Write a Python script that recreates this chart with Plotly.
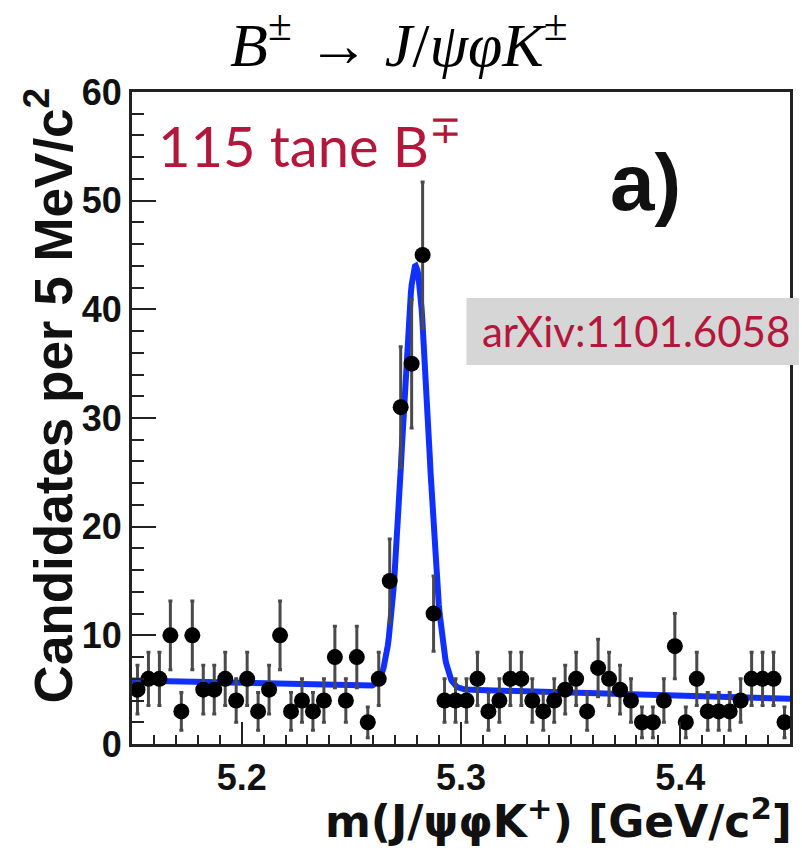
import numpy as np
import plotly.graph_objects as go

# ---- data (candidates per 5 MeV/c^2 bin, 5.15 - 5.45 GeV/c^2) ----
bin_lo = 5.15
bin_width = 0.005
counts = [5, 6, 6, 10, 3, 10, 5, 5, 6, 4, 6, 3,
          5, 10, 3, 4, 3, 4, 8, 4, 8, 2, 6,
          15, 31, 35, 45, 12,
          4, 4, 4, 6, 3, 4, 6, 6, 4, 3, 4, 5, 6, 3, 7, 6, 5, 4, 2, 2,
          4, 9, 2, 6, 3, 3, 3, 4, 6, 6, 6, 2]
bin_centers = [bin_lo + bin_width * (i + 0.5) for i in range(len(counts))]
errors = [np.sqrt(c) for c in counts]

# ---- fit model parameters (Gaussian signal + linear background) ----
sig_yield = 115
sig_mean = 5.2793
sig_sigma = 0.0059
bkg_at_lo = 5.85
bkg_slope = -5.6  # per GeV/c^2

x_tick_vals = [5.2, 5.3, 5.4]
x_tick_text = ["5.2", "5.3", "5.4"]
y_tick_vals = [0, 10, 20, 30, 40, 50, 60]

xf = np.linspace(5.15, 5.45, 801)
yf = (bkg_at_lo + bkg_slope * (xf - bin_lo)
      + sig_yield * bin_width / (np.sqrt(2 * np.pi) * sig_sigma)
      * np.exp(-0.5 * ((xf - sig_mean) / sig_sigma) ** 2))

crimson = "#b3173b"
fig = go.Figure()
fig.add_trace(go.Scatter(x=xf, y=yf, mode="lines",
                         line=dict(color="#1030ff", width=6), hoverinfo="skip"))
fig.add_trace(go.Scatter(
    x=bin_centers, y=counts, mode="markers",
    marker=dict(color="black", size=16),
    error_y=dict(type="data", array=errors, color="#4a4a4a", thickness=3, width=2),
))

axis_common = dict(showgrid=False, zeroline=False, showline=True, mirror=True,
                   linecolor="#222222", linewidth=3, ticks="inside",
                   tickcolor="#222222", tickwidth=2)
fig.update_xaxes(range=[5.15, 5.45], tickvals=x_tick_vals, ticktext=x_tick_text,
                 ticklen=22,
                 minor=dict(dtick=0.01, ticklen=9, tickcolor="#222222", ticks="inside"),
                 tickfont=dict(family="Liberation Sans", size=36, color="#111111", weight="bold"),
                 **axis_common)
fig.update_yaxes(range=[0, 60], tickvals=y_tick_vals, ticklen=24,
                 minor=dict(dtick=2, ticklen=12, tickcolor="#222222", ticks="inside"),
                 tickfont=dict(family="Liberation Sans", size=36, color="#111111", weight="bold"),
                 **axis_common)

L, R, T, B = 132, 9, 92, 106
W, H = 802, 850
pw, ph = W - L - R, H - T - B

def px(xp):
    return (xp - L) / pw

def py(yp):
    return (H - B - yp) / ph

annotations = [
    dict(text="<i>B</i><sup>±</sup> → <i>J</i>/<i>ψφK</i><sup>±</sup>",
         x=px(400), y=py(40), xref="paper", yref="paper", showarrow=False,
         xanchor="center", yanchor="middle",
         font=dict(family="Liberation Serif", size=62, color="black")),
    dict(text="Candidates per 5 MeV/c<sup>2</sup>", textangle=-90,
         x=px(48), y=py(85), xref="paper", yref="paper", showarrow=False,
         xanchor="center", yanchor="top",
         font=dict(family="Liberation Sans", size=53, color="#111111", weight="bold")),
    dict(text="m(J/ψφK<sup>+</sup>) [GeV/c<sup>2</sup>]",
         x=px(797), y=py(819), xref="paper", yref="paper", showarrow=False,
         xanchor="right", yanchor="middle",
         font=dict(family="DejaVu Sans", size=44, color="#111111", weight="bold")),
    dict(text="115 tane B<sup>∓</sup>",
         x=px(156), y=py(141), xref="paper", yref="paper", showarrow=False,
         xanchor="left", yanchor="middle",
         font=dict(family="Lato", size=56, color=crimson)),
    dict(text="a)",
         x=px(648), y=py(182), xref="paper", yref="paper", showarrow=False,
         xanchor="center", yanchor="middle",
         font=dict(family="Liberation Sans", size=80, color="#111111", weight="bold")),
    dict(text="arXiv:1101.6058",
         x=px(638), y=py(331), xref="paper", yref="paper", showarrow=False,
         xanchor="center", yanchor="middle",
         font=dict(family="Lato", size=42, color=crimson)),
]

shapes = [dict(type="rect", xref="paper", yref="paper",
               x0=px(468), x1=px(802), y0=py(365), y1=py(298),
               fillcolor="#d6d6d6", line=dict(width=0), layer="above")]

fig.update_layout(
    width=W, height=H, margin=dict(l=L, r=R, t=T, b=B),
    paper_bgcolor="white", plot_bgcolor="white", showlegend=False,
    annotations=annotations, shapes=shapes,
)

fig.write_html("out.html")
